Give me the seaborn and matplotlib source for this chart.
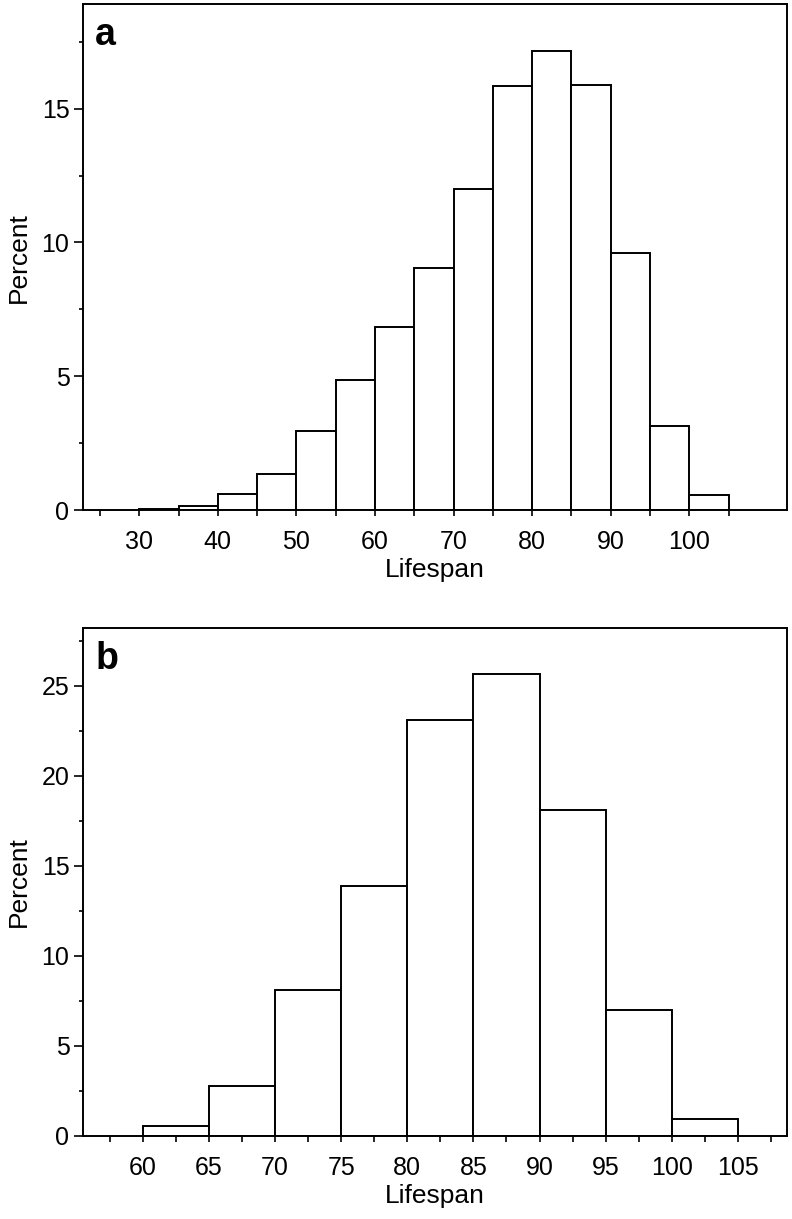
import numpy as np
import pandas as pd
import seaborn as sns
import matplotlib.pyplot as plt
from matplotlib.ticker import MultipleLocator, FixedLocator

# Panel a: lifespan distribution, 5-year bins
edges_a = [30, 35, 40, 45, 50, 55, 60, 65, 70, 75, 80, 85, 90, 95, 100, 105]
pct_a = [0.05, 0.15, 0.6, 1.35, 2.95, 4.85, 6.85, 9.05, 12.0, 15.85, 17.15, 15.9, 9.6, 3.15, 0.55]
xticks_a = [30, 40, 50, 60, 70, 80, 90, 100]

# Panel b
edges_b = [60, 65, 70, 75, 80, 85, 90, 95, 100, 105]
pct_b = [0.55, 2.75, 8.1, 13.9, 23.1, 25.65, 18.1, 7.0, 0.95]
xticks_b = [60, 65, 70, 75, 80, 85, 90, 95, 100, 105]

sns.set_style('ticks')
plt.rcParams['font.family'] = ['Liberation Sans', 'DejaVu Sans']
for key in ['text.color', 'axes.labelcolor', 'xtick.color', 'ytick.color']:
    plt.rcParams[key] = 'black'

fig = plt.figure(figsize=(7.92, 12.19), dpi=100)
ax_a = fig.add_axes([0.1044, 0.5816, 0.889, 0.4149])
ax_b = fig.add_axes([0.1044, 0.0681, 0.889, 0.4167])


def draw_panel(ax, edges, pct, xticks, xlim, ylim, minor_x, letter):
    e = np.array(edges, dtype=float)
    df = pd.DataFrame({'x': (e[:-1] + e[1:]) / 2, 'w': pct})
    sns.histplot(data=df, x='x', weights='w', bins=list(edges), ax=ax,
                 color='white', edgecolor='black', linewidth=1.4, alpha=1)
    ax.set_xlim(*xlim)
    ax.set_ylim(*ylim)
    ax.set_xticks(xticks)
    ax.xaxis.set_minor_locator(FixedLocator(minor_x))
    ax.yaxis.set_major_locator(MultipleLocator(5))
    ax.yaxis.set_minor_locator(MultipleLocator(2.5))
    ax.tick_params(axis='x', which='both', length=4.5, width=1.2, direction='out')
    ax.tick_params(axis='x', which='major', pad=10, labelsize=18)
    ax.tick_params(axis='y', which='major', length=6.5, width=1.2, labelsize=18, pad=3)
    ax.tick_params(axis='y', which='minor', length=3.2, width=1.2)
    for s in ax.spines.values():
        s.set_linewidth(1.4)
        s.set_color('black')
    ax.set_xlabel('Lifespan', fontsize=19, labelpad=3)
    ax.set_ylabel('Percent', fontsize=19, labelpad=8)
    ax.text(0.018, 0.975, letter, transform=ax.transAxes, fontsize=27,
            fontweight='bold', va='top', ha='left')


draw_panel(ax_a, edges_a, pct_a, xticks_a, (22.8, 112.4), (0, 18.9),
           np.arange(25, 115, 10), 'a')
draw_panel(ax_b, edges_b, pct_b, xticks_b, (55.45, 108.7), (0, 28.2),
           np.arange(57.5, 110, 5), 'b')

fig.savefig('out.png', dpi=100)
